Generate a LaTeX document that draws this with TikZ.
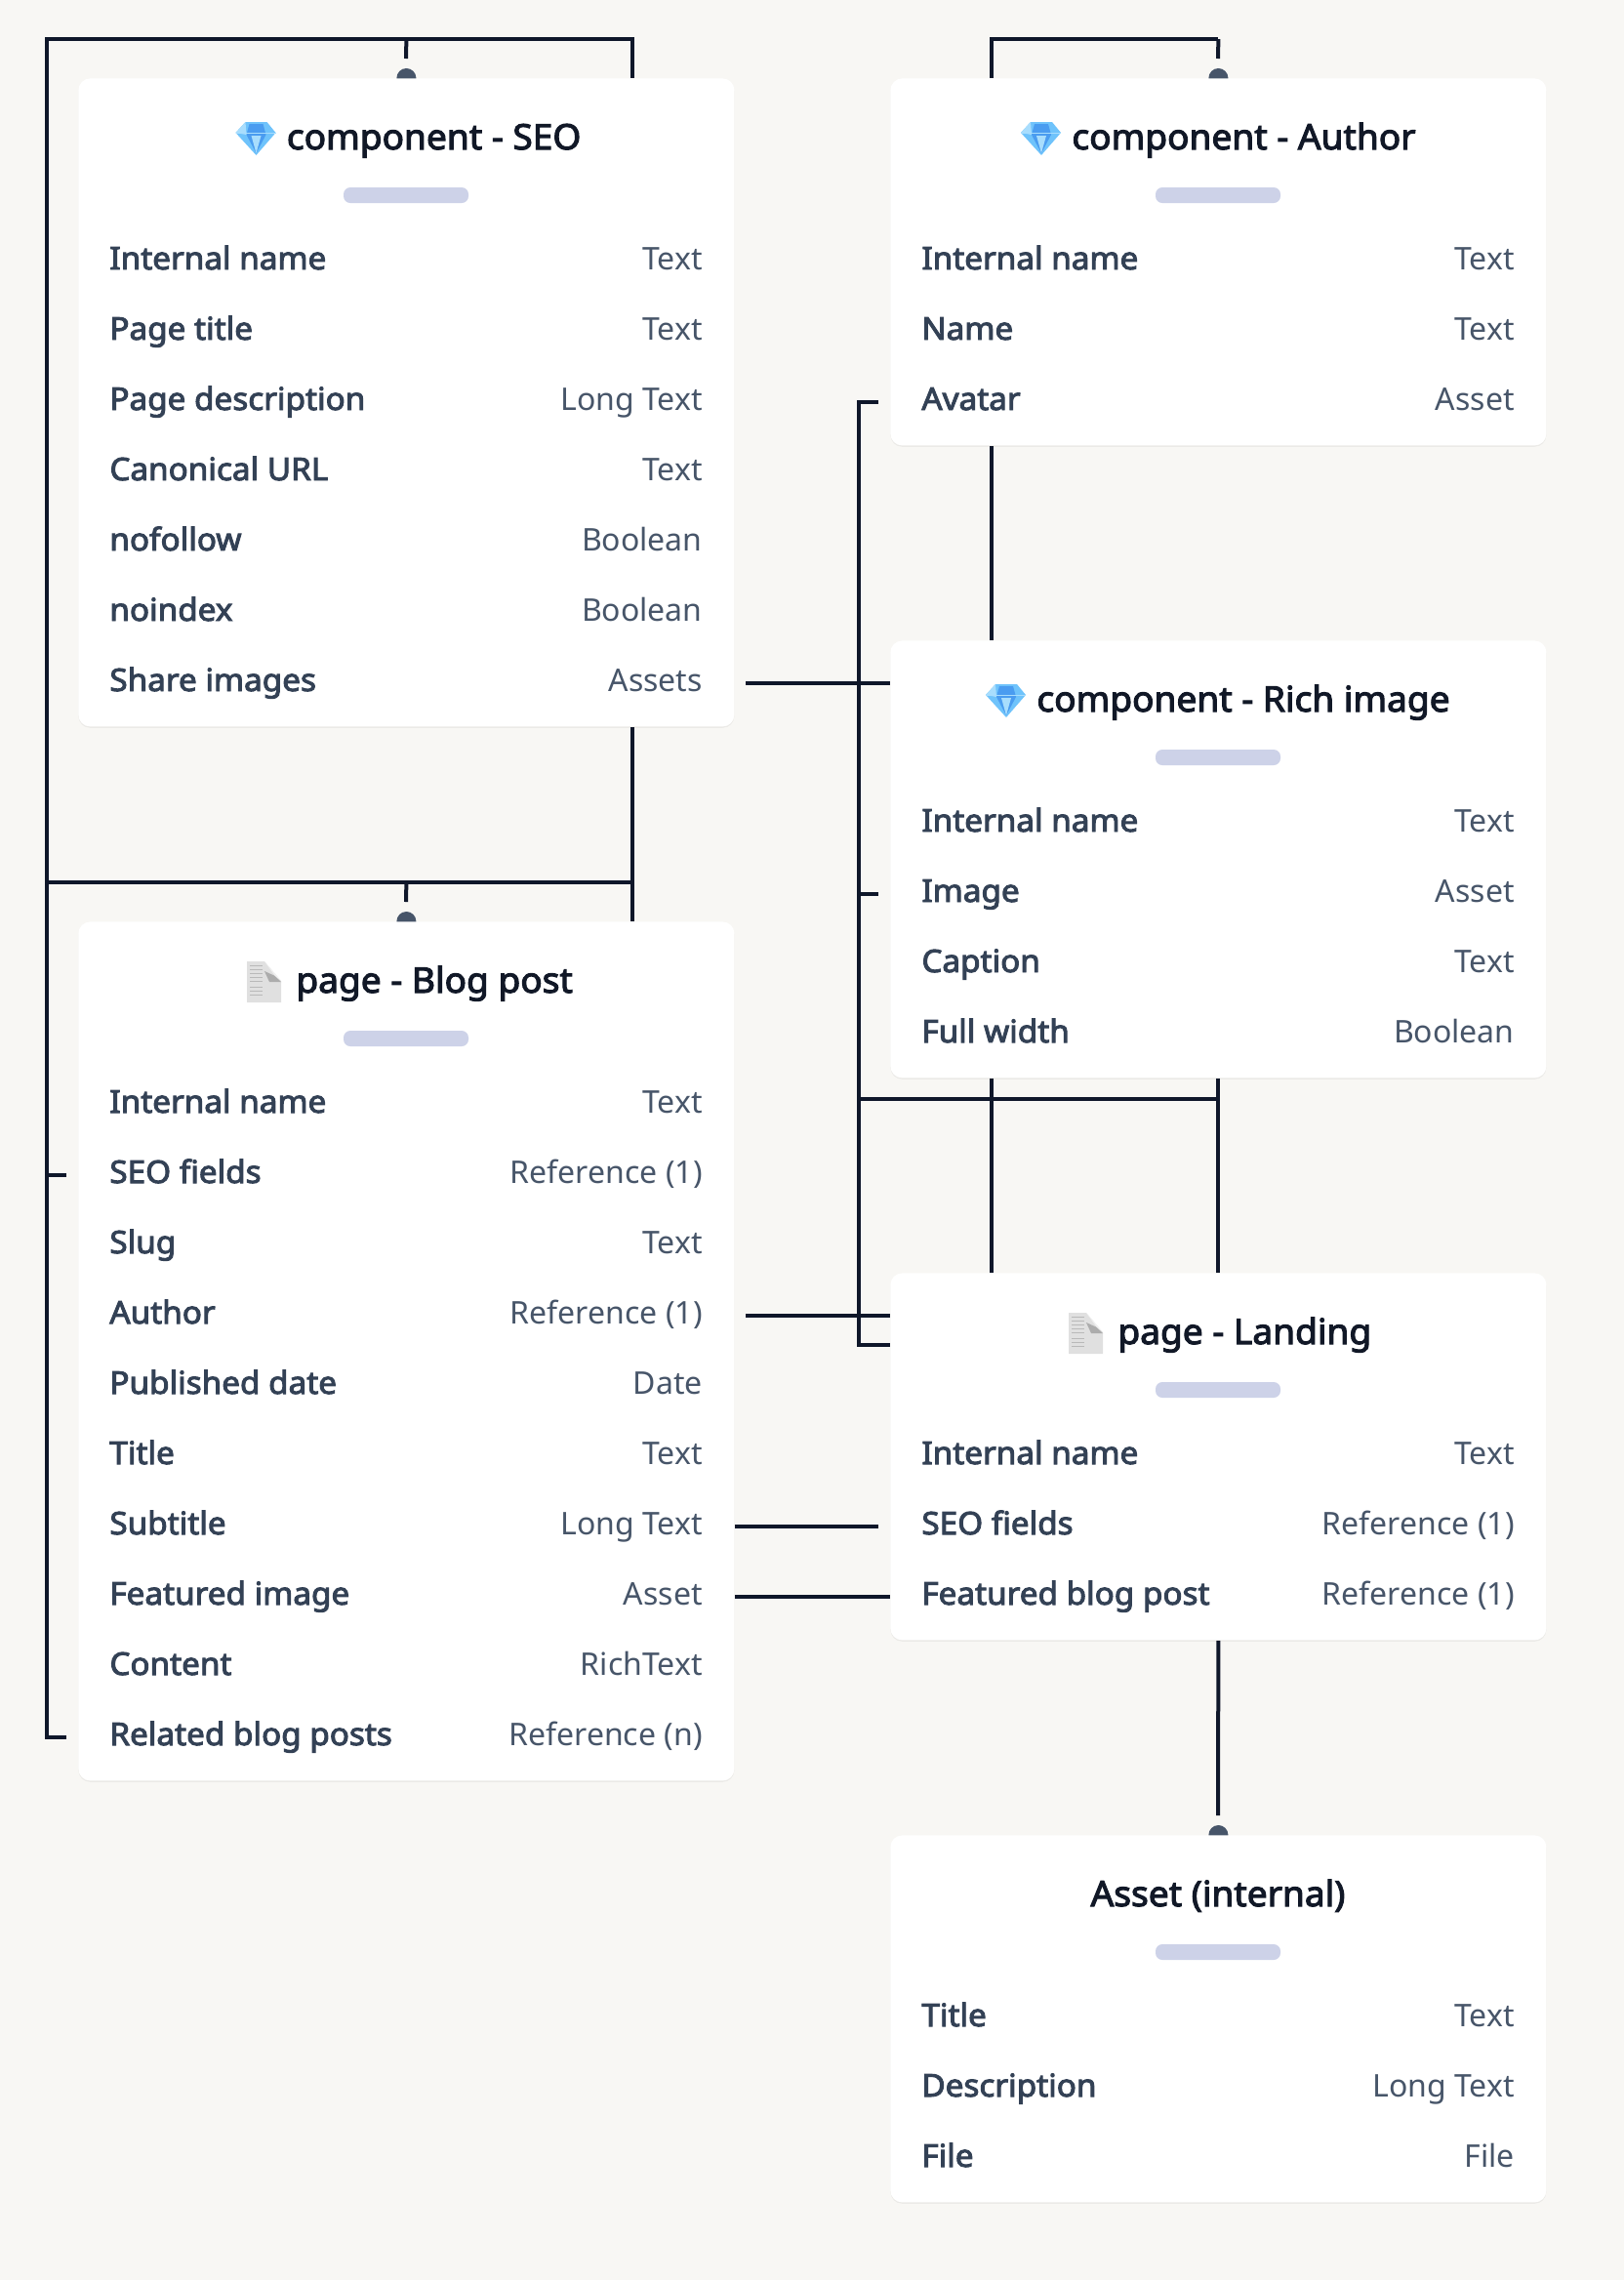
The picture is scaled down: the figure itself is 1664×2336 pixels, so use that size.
\documentclass[tikz,border=0pt]{standalone}
\usepackage{fontspec}
\setmainfont{Noto Sans}
\newfontfamily\semifont{Noto Sans}[FakeBold=3,FakeStretch=1.04]
\newfontfamily\headfont{Noto Sans}[FakeBold=3,FakeStretch=1.03]
\usetikzlibrary{backgrounds,shadows}
\definecolor{pagebg}{HTML}{F8F7F4}
\definecolor{wirecol}{HTML}{0F172A}
\definecolor{titlecol}{HTML}{111827}
\definecolor{namecol}{HTML}{334155}
\definecolor{typecol}{HTML}{475569}
\definecolor{barcol}{HTML}{CDD2E8}
\definecolor{gemout}{HTML}{6FC3FB}
\definecolor{gemin}{HTML}{4A9CF0}
\definecolor{gempale}{HTML}{A8DDFD}
\tikzset{
card/.style={rectangle,fill=white,rounded corners=6pt,minimum width=336pt,inner sep=0pt,anchor=north west,drop shadow={shadow xshift=0pt,shadow yshift=-.7pt,opacity=.05,fill=black}},
title/.style={anchor=base west,inner sep=0pt,text=titlecol,font=\headfont\fontsize{18}{22}\selectfont},
bar/.style={rectangle,fill=barcol,rounded corners=3.5pt,minimum width=64pt,minimum height=8pt,inner sep=0pt},
fname/.style={anchor=base west,inner sep=0pt,text=namecol,font=\semifont\fontsize{16}{20}\selectfont},
ftype/.style={anchor=base east,inner sep=0pt,text=typecol,font=\fontsize{16}{20}\selectfont},
wire/.style={draw=wirecol,line width=2pt},
dot/.style={circle,fill=typecol,minimum size=10pt,inner sep=0pt},
gem/.pic={
\fill[gemout] (-42,-28)--(-20,-28)--(-11,-17)--(-31,6)--(-52,-17)--cycle;
\fill[gemin] (-38,-26)--(-24,-26)--(-21,-15)--(-31,4)--(-41,-15)--cycle;
\fill[gempale] (-52,-17)--(-42,-28)--(-41,-15)--cycle;
\fill[gempale] (-31,4)--(-36,-14)--(-26,-14)--cycle;
\draw[gempale,line width=.4pt] (-52,-17)--(-11,-17);
},
docicon/.pic={
\fill[gray!24] (-50,-32)--(-32,-32)--(-15,-12)--(-15,10)--(-50,10)--cycle;
\fill[gray!65] (-32,-22)--(-27,-11)--(-15,-11)--(-21,-17)--cycle;
\fill[gray!10] (-32,-32)--(-15,-12)--(-21,-17)--cycle;
\foreach \ty in {-28,-24,-20,-16,-12,-6,-2,2}
\draw[gray!55,line width=.3pt] (-47,\ty)--(-34,\ty);
}
}
\begin{document}
\begin{tikzpicture}[x=.5pt,y=-.5pt]
\useasboundingbox (0,0) rectangle (1664,2336);

\node[card,minimum height=332pt] (seo) at (80,80) {};
\node[title] (seoTitle) at (293.5,153) {component - SEO};
\pic at (seoTitle.base west) {gem};
\node[bar] (seoBar) at (416,200) {};
\node[fname] (seoName) at (112,276) {Internal name};
\node[ftype] (seoNameT) at (720,276) {Text};
\node[fname] (seoPage) at (112,348) {Page title};
\node[ftype] (seoPageT) at (720,348) {Text};
\node[fname] (seoDesc) at (112,420) {Page description};
\node[ftype] (seoDescT) at (720,420) {Long Text};
\node[fname] (seoUrl) at (112,492) {Canonical URL};
\node[ftype] (seoUrlT) at (720,492) {Text};
\node[fname] (seoFollow) at (112,564) {nofollow};
\node[ftype] (seoFollowT) at (720,564) {Boolean};
\node[fname] (seoIndex) at (112,636) {noindex};
\node[ftype] (seoIndexT) at (720,636) {Boolean};
\node[fname] (seoShare) at (112,708) {Share images};
\node[ftype] (seoShareT) at (720,708) {Assets};

\node[card,minimum height=188pt] (author) at (912,80) {};
\node[title] (authorTitle) at (1098,153) {component - Author};
\pic at (authorTitle.base west) {gem};
\node[bar] (authorBar) at (1248,200) {};
\node[fname] (authorName) at (944,276) {Internal name};
\node[ftype] (authorNameT) at (1552,276) {Text};
\node[fname] (authorFull) at (944,348) {Name};
\node[ftype] (authorFullT) at (1552,348) {Text};
\node[fname] (authorAvatar) at (944,420) {Avatar};
\node[ftype] (authorAvatarT) at (1552,420) {Asset};

\node[card,minimum height=224pt] (rich) at (912,656) {};
\node[title] (richTitle) at (1062,729) {component - Rich image};
\pic at (richTitle.base west) {gem};
\node[bar] (richBar) at (1248,776) {};
\node[fname] (richName) at (944,852) {Internal name};
\node[ftype] (richNameT) at (1552,852) {Text};
\node[fname] (richImage) at (944,924) {Image};
\node[ftype] (richImageT) at (1552,924) {Asset};
\node[fname] (richCaption) at (944,996) {Caption};
\node[ftype] (richCaptionT) at (1552,996) {Text};
\node[fname] (richWidth) at (944,1068) {Full width};
\node[ftype] (richWidthT) at (1552,1068) {Boolean};

\node[card,minimum height=440pt] (blog) at (80,944) {};
\node[title] (blogTitle) at (303,1017) {page - Blog post};
\pic at (blogTitle.base west) {docicon};
\node[bar] (blogBar) at (416,1064) {};
\node[fname] (blogName) at (112,1140) {Internal name};
\node[ftype] (blogNameT) at (720,1140) {Text};
\node[fname] (blogSeo) at (112,1212) {SEO fields};
\node[ftype] (blogSeoT) at (720,1212) {Reference (1)};
\node[fname] (blogSlug) at (112,1284) {Slug};
\node[ftype] (blogSlugT) at (720,1284) {Text};
\node[fname] (blogAuthor) at (112,1356) {Author};
\node[ftype] (blogAuthorT) at (720,1356) {Reference (1)};
\node[fname] (blogDate) at (112,1428) {Published date};
\node[ftype] (blogDateT) at (720,1428) {Date};
\node[fname] (blogHead) at (112,1500) {Title};
\node[ftype] (blogHeadT) at (720,1500) {Text};
\node[fname] (blogSub) at (112,1572) {Subtitle};
\node[ftype] (blogSubT) at (720,1572) {Long Text};
\node[fname] (blogImage) at (112,1644) {Featured image};
\node[ftype] (blogImageT) at (720,1644) {Asset};
\node[fname] (blogContent) at (112,1716) {Content};
\node[ftype] (blogContentT) at (720,1716) {RichText};
\node[fname] (blogRelated) at (112,1788) {Related blog posts};
\node[ftype] (blogRelatedT) at (720,1788) {Reference (n)};

\node[card,minimum height=188pt] (landing) at (912,1304) {};
\node[title] (landingTitle) at (1145,1377) {page - Landing};
\pic at (landingTitle.base west) {docicon};
\node[bar] (landingBar) at (1248,1424) {};
\node[fname] (landingName) at (944,1500) {Internal name};
\node[ftype] (landingNameT) at (1552,1500) {Text};
\node[fname] (landingSeo) at (944,1572) {SEO fields};
\node[ftype] (landingSeoT) at (1552,1572) {Reference (1)};
\node[fname] (landingPost) at (944,1644) {Featured blog post};
\node[ftype] (landingPostT) at (1552,1644) {Reference (1)};

\node[card,minimum height=188pt] (asset) at (912,1880) {};
\node[title,anchor=base] (assetTitle) at (1248,1953) {Asset (internal)};
\node[bar] (assetBar) at (1248,2000) {};
\node[fname] (assetName) at (944,2076) {Title};
\node[ftype] (assetNameT) at (1552,2076) {Text};
\node[fname] (assetDesc) at (944,2148) {Description};
\node[ftype] (assetDescT) at (1552,2148) {Long Text};
\node[fname] (assetFile) at (944,2220) {File};
\node[ftype] (assetFileT) at (1552,2220) {File};

\coordinate (seoTopL) at (48,40);
\coordinate (seoTopR) at (648,40);
\coordinate (seoStub) at (416,60);
\coordinate (blogJoin) at (48,904);
\coordinate (blogStub) at (416,924);
\coordinate (blogSeoEnd) at (68,1204);
\coordinate (blogRelEnd) at (68,1780);
\coordinate (authorTopL) at (1016,40);
\coordinate (authorStub) at (1248,60);
\coordinate (richRail) at (880,412);
\coordinate (avatarEnd) at (900,412);
\coordinate (richImgEnd) at (900,916);
\coordinate (richJoin) at (880,1126);
\coordinate (landingIn) at (880,1378);
\coordinate (shareEnd) at (764,700);
\coordinate (authorEnd) at (764,1348);
\coordinate (landingSeoEnd) at (900,1564);
\coordinate (featuredEnd) at (912,1636);
\coordinate (assetStub) at (1248,1860);

\begin{scope}[on background layer]
\fill[pagebg] (0,0) rectangle (1664,2336);
\draw[wire] (seoTopR |- seo.north) -- (seoTopR) -- (seoTopL) -- (seoTopL |- blogRelEnd) -- (blogRelEnd);
\draw[wire] (seo.north |- seoTopL) -- (seoStub);
\node[dot] (seoDot) at (seo.north) {};
\draw[wire] (seoTopL |- blogSeoEnd) -- (blogSeoEnd);
\draw[wire] (seoTopR |- seo.south) -- (seoTopR |- blog.north);
\draw[wire] (blogJoin) -- (seoTopR |- blogJoin);
\draw[wire] (blog.north |- blogJoin) -- (blogStub);
\node[dot] (blogDot) at (blog.north) {};
\draw[wire] (authorTopL |- author.north) -- (authorTopL) -- (author.north |- authorTopL);
\draw[wire] (author.north |- authorTopL) -- (authorStub);
\node[dot] (authorDot) at (author.north) {};
\draw[wire] (authorTopL |- author.south) -- (authorTopL |- rich.north);
\draw[wire] (authorTopL |- rich.south) -- (authorTopL |- landing.north);
\draw[wire] (rich.south) -- (landing.north);
\draw[wire] (avatarEnd) -- (richRail) -- (landingIn) -- (landing.west |- landingIn);
\draw[wire] (richRail |- richImgEnd) -- (richImgEnd);
\draw[wire] (richJoin) -- (rich.south |- richJoin);
\draw[wire] (shareEnd) -- (rich.west |- shareEnd);
\draw[wire] (authorEnd) -- (landing.west |- authorEnd);
\draw[wire] (blog.east |- landingSeoEnd) -- (landingSeoEnd);
\draw[wire] (blog.east |- featuredEnd) -- (featuredEnd);
\draw[wire] (landing.south) -- (assetStub);
\node[dot] (assetDot) at (asset.north) {};
\end{scope}
\end{tikzpicture}
\end{document}
